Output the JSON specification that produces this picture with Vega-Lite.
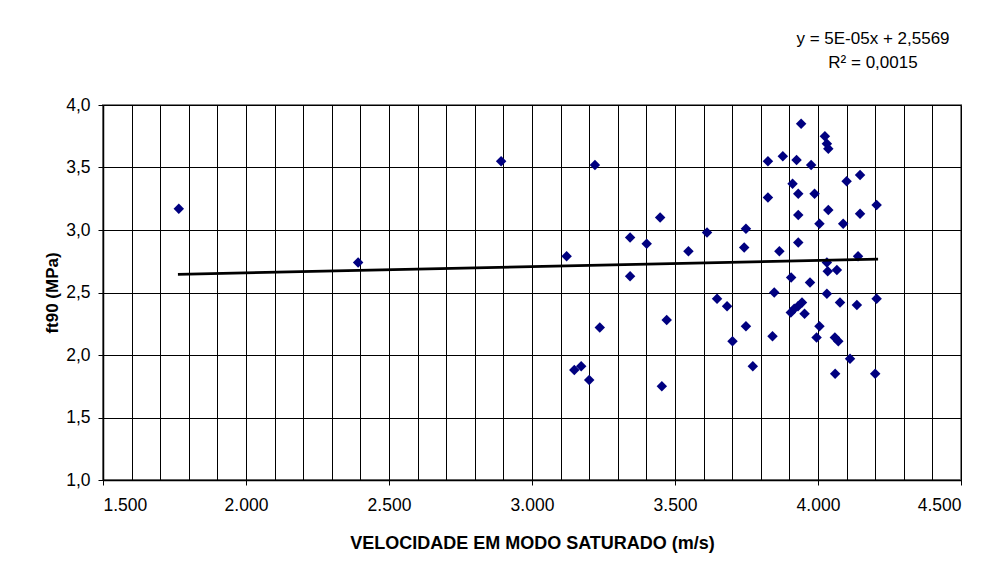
{
  "$schema": "https://vega.github.io/schema/vega-lite/v6.json",
  "width": 858,
  "height": 375,
  "autosize": {"type": "none"},
  "padding": {"left": 103, "top": 105, "right": 39, "bottom": 95},
  "background": "white",
  "title": {
    "text": ["y = 5E-05x + 2,5569", "R² = 0,0015"],
    "anchor": "end",
    "frame": "group",
    "align": "center",
    "dx": -88,
    "offset": 24,
    "font": "Liberation Sans",
    "fontSize": 17,
    "fontWeight": "normal",
    "color": "black",
    "lineHeight": 24
  },
  "datasets": {
    "points": [
      {"v": 1765, "ft": 3.17}, {"v": 2392, "ft": 2.74}, {"v": 2892, "ft": 3.55}, {"v": 3220, "ft": 3.52},
      {"v": 3448, "ft": 3.10}, {"v": 3343, "ft": 2.94}, {"v": 3401, "ft": 2.89}, {"v": 3121, "ft": 2.79},
      {"v": 3343, "ft": 2.63}, {"v": 3471, "ft": 2.28}, {"v": 3237, "ft": 2.22}, {"v": 3148, "ft": 1.88},
      {"v": 3172, "ft": 1.91}, {"v": 3200, "ft": 1.80}, {"v": 3454, "ft": 1.75},
      {"v": 3941, "ft": 3.85}, {"v": 4024, "ft": 3.75}, {"v": 4031, "ft": 3.69}, {"v": 4036, "ft": 3.65},
      {"v": 3825, "ft": 3.55}, {"v": 3877, "ft": 3.59}, {"v": 3925, "ft": 3.56}, {"v": 3976, "ft": 3.52},
      {"v": 4100, "ft": 3.39}, {"v": 4147, "ft": 3.44}, {"v": 3911, "ft": 3.37}, {"v": 3931, "ft": 3.29},
      {"v": 3988, "ft": 3.29}, {"v": 3825, "ft": 3.26}, {"v": 4205, "ft": 3.20}, {"v": 4036, "ft": 3.16},
      {"v": 4147, "ft": 3.13}, {"v": 3931, "ft": 3.12}, {"v": 4005, "ft": 3.05}, {"v": 4088, "ft": 3.05},
      {"v": 3612, "ft": 2.98}, {"v": 3748, "ft": 3.01}, {"v": 3547, "ft": 2.83}, {"v": 3742, "ft": 2.86},
      {"v": 3865, "ft": 2.83}, {"v": 3931, "ft": 2.90}, {"v": 4140, "ft": 2.79}, {"v": 4031, "ft": 2.74},
      {"v": 4034, "ft": 2.67}, {"v": 4066, "ft": 2.68}, {"v": 3906, "ft": 2.62}, {"v": 3972, "ft": 2.58},
      {"v": 3847, "ft": 2.50}, {"v": 4031, "ft": 2.49}, {"v": 4077, "ft": 2.42}, {"v": 4136, "ft": 2.40},
      {"v": 4205, "ft": 2.45}, {"v": 3647, "ft": 2.45}, {"v": 3682, "ft": 2.39}, {"v": 3944, "ft": 2.42},
      {"v": 3930, "ft": 2.39}, {"v": 3917, "ft": 2.37}, {"v": 3905, "ft": 2.34}, {"v": 3953, "ft": 2.33},
      {"v": 3748, "ft": 2.23}, {"v": 4005, "ft": 2.23}, {"v": 3701, "ft": 2.11}, {"v": 3841, "ft": 2.15},
      {"v": 3995, "ft": 2.14}, {"v": 4059, "ft": 2.14}, {"v": 4071, "ft": 2.11}, {"v": 3772, "ft": 1.91},
      {"v": 4112, "ft": 1.97}, {"v": 4060, "ft": 1.85}, {"v": 4200, "ft": 1.85}
    ],
    "trend": [
      {"v": 1762, "ft": 2.645},
      {"v": 4210, "ft": 2.767}
    ]
  },
  "encoding": {
    "x": {
      "field": "v",
      "type": "quantitative",
      "scale": {"domain": [1500, 4500], "nice": false, "zero": false},
      "axis": {
        "title": "VELOCIDADE EM MODO SATURADO (m/s)",
        "values": [1500,1600,1700,1800,1900,2000,2100,2200,2300,2400,2500,2600,2700,2800,2900,3000,3100,3200,3300,3400,3500,3600,3700,3800,3900,4000,4100,4200,4300,4400,4500],
        "labelExpr": "datum.value % 500 === 0 ? replace(format(datum.value, ','), ',', '.') : ''",
        "tickOpacity": {"condition": {"test": "datum.value % 500 === 0", "value": 1}, "value": 0},
        "tickSize": 5,
        "labelPadding": 11,
        "titlePadding": 21,
        "titleFontSize": 18,
        "labelOverlap": false
      }
    },
    "y": {
      "field": "ft",
      "type": "quantitative",
      "scale": {"domain": [1, 4], "nice": false, "zero": false},
      "axis": {
        "title": "ft90 (MPa)",
        "values": [1, 1.5, 2, 2.5, 3, 3.5, 4],
        "labelExpr": "replace(format(datum.value, '.1f'), '.', ',')",
        "tickSize": 5,
        "labelPadding": 8,
        "titlePadding": 4
      }
    }
  },
  "layer": [
    {
      "data": {"name": "points"},
      "mark": {"type": "point", "shape": "diamond", "filled": true, "size": 110, "color": "#000080", "opacity": 1}
    },
    {
      "data": {"name": "trend"},
      "mark": {"type": "line", "color": "black", "strokeWidth": 2.7}
    }
  ],
  "config": {
    "view": {"stroke": "#808080", "strokeWidth": 2},
    "axis": {
      "domainColor": "black",
      "domainWidth": 1.5,
      "gridColor": "black",
      "gridWidth": 1,
      "gridOpacity": 1,
      "tickColor": "black",
      "tickWidth": 1,
      "labelFont": "Liberation Sans",
      "labelFontSize": 17.5,
      "labelColor": "black",
      "titleFont": "Liberation Sans",
      "titleFontSize": 17,
      "titleFontWeight": "bold",
      "titleColor": "black"
    }
  }
}
